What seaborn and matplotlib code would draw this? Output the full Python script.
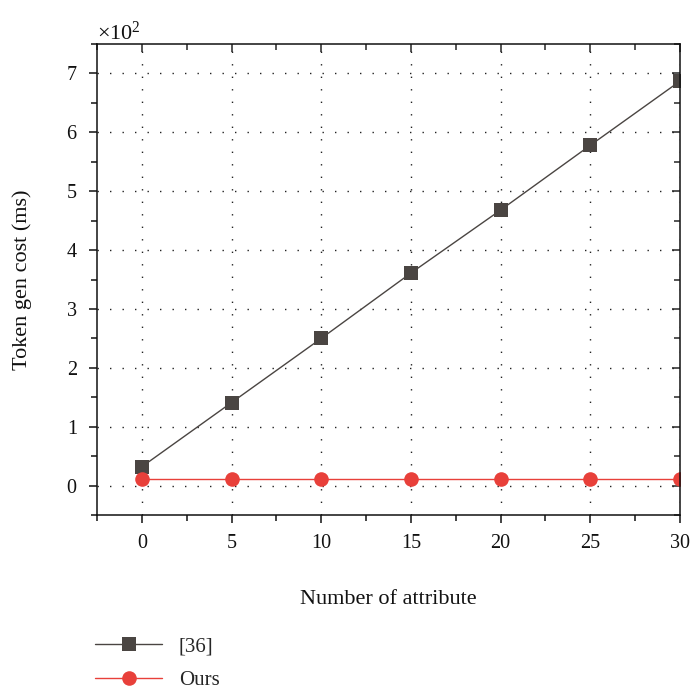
import numpy as np
import pandas as pd
import matplotlib
matplotlib.use("Agg")
import matplotlib.pyplot as plt
import matplotlib.ticker as mticker
import seaborn as sns

# Token generation cost (ms) against the number of attributes
attributes = [0, 5, 10, 15, 20, 25, 30]
cost_ref36 = [32, 141, 250, 361, 468, 578, 687]
cost_ours = [11, 11, 11, 11, 11, 11, 11]
series_names = ["[36]", "Ours"]

df = pd.DataFrame({
    "attr": attributes * 2,
    "cost": cost_ref36 + cost_ours,
    "method": [series_names[0]] * len(attributes) + [series_names[1]] * len(attributes),
})

sns.set_theme(style="white")
plt.rcParams["font.family"] = ["Liberation Serif", "DejaVu Serif"]
plt.rcParams["mathtext.fontset"] = "custom"
plt.rcParams["mathtext.rm"] = "Liberation Serif"

fig = plt.figure(figsize=(6.91, 6.91), dpi=100)
ax = fig.add_axes([0.1404, 0.2547, 0.8437, 0.6816])

palette = {"[36]": "#4a4542", "Ours": "#e8403a"}
markers = {"[36]": "s", "Ours": "o"}
msize = {"[36]": 9.5, "Ours": 10.5}
for name in series_names:
    sub = df[df["method"] == name]
    sns.lineplot(data=sub, x="attr", y="cost", color=palette[name],
                 marker=markers[name], ax=ax, linewidth=1.0,
                 markersize=msize[name], markeredgewidth=0, legend=False)

ax.set_xlim(-2.5, 30)
ax.set_ylim(-50, 750)
ax.xaxis.set_major_locator(mticker.MultipleLocator(5))
ax.xaxis.set_minor_locator(mticker.MultipleLocator(2.5))
ax.yaxis.set_major_locator(mticker.MultipleLocator(100))
ax.yaxis.set_minor_locator(mticker.MultipleLocator(50))

fmt = mticker.ScalarFormatter(useMathText=True)
fmt.set_powerlimits((0, 0))
ax.yaxis.set_major_formatter(fmt)
ax.yaxis.get_offset_text().set_fontsize(16)

ax.grid(True, which="major", linestyle=(0, (1, 8)), color="#222222", linewidth=1.0)
for s in ax.spines.values():
    s.set_visible(True)
    s.set_color("#111111")
    s.set_linewidth(1.1)

ax.tick_params(axis="both", which="major", direction="out", length=6, width=1.1,
               labelsize=14.5, colors="#111111", bottom=True, left=True, pad=8)
ax.tick_params(axis="both", which="minor", direction="out", length=4, width=1.1,
               bottom=True, left=True, colors="#111111")

# mirrored ticks on the top and right edges, pointing inward
top = ax.secondary_xaxis("top")
top.xaxis.set_major_locator(mticker.MultipleLocator(5))
top.xaxis.set_minor_locator(mticker.MultipleLocator(2.5))
top.tick_params(which="major", direction="in", length=6, width=1.1, labeltop=False)
top.tick_params(which="minor", direction="in", length=4, width=1.1)
top.spines["top"].set_visible(False)
right = ax.secondary_yaxis("right")
right.yaxis.set_major_locator(mticker.MultipleLocator(100))
right.yaxis.set_minor_locator(mticker.MultipleLocator(50))
right.tick_params(which="major", direction="in", length=6, width=1.1, labelright=False)
right.tick_params(which="minor", direction="in", length=4, width=1.1)
right.spines["right"].set_visible(False)

ax.set_xlabel("Number of attribute", fontsize=16, labelpad=26, color="#111111")
ax.set_ylabel("Token gen cost (ms)", fontsize=16, labelpad=24, color="#111111")

handles = [
    plt.Line2D([], [], color=palette[n], marker=markers[n], linewidth=1.0,
               markersize=msize[n], markeredgewidth=0) for n in series_names
]
fig.legend(handles, series_names, loc="upper left", bbox_to_anchor=(0.126, 0.091),
           frameon=False, fontsize=15, handlelength=3.2, handletextpad=0.8,
           labelspacing=0.7, borderaxespad=0)

fig.savefig("out.png", dpi=100)
